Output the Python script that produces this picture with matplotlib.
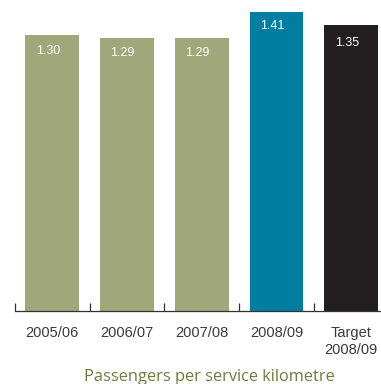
import matplotlib
matplotlib.use("Agg")
import matplotlib.pyplot as plt
from matplotlib.ticker import FixedLocator

categories = ["2005/06", "2006/07", "2007/08", "2008/09", "Target\n2008/09"]
values = [1.30, 1.29, 1.29, 1.41, 1.35]
value_labels = ["1.30", "1.29", "1.29", "1.41", "1.35"]
colors = ["#a0a77b", "#a0a77b", "#a0a77b", "#007ea1", "#231f20"]
title = "Passengers per service kilometre"

W, H = 381, 384
fig = plt.figure(figsize=(W / 100, H / 100), dpi=100)
ax = fig.add_axes([15 / W, 1 - 311 / H, (381 - 15) / W, 311 / H])

x = list(range(len(categories)))
ax.bar(x, values, width=0.72, color=colors, zorder=2)

label_drop = [0.075, 0.072, 0.072, 0.068, 0.088]
for xi, v, lab, d in zip(x, values, value_labels, label_drop):
    ax.text(xi - 0.06, v - d, lab, ha="center", va="center",
            color="white", fontsize=9, family="Liberation Sans")

ax.set_xlim(-0.5, 4.4)
ax.set_ylim(0, 1.467)

ax.set_xticks(x)
ax.set_xticklabels(categories, fontsize=10.5, color="#3a3a3a",
                   family="Liberation Sans", linespacing=1.25)
ax.tick_params(axis="x", which="major", length=0, pad=11)
ax.xaxis.set_minor_locator(FixedLocator([i - 0.5 for i in x]))
ax.tick_params(axis="x", which="minor", direction="in", length=6,
               width=0.9, color="#333333")
ax.set_yticks([])

for s in ("left", "top", "right"):
    ax.spines[s].set_visible(False)
ax.spines["bottom"].set_color("#333333")
ax.spines["bottom"].set_linewidth(0.9)

fig.text(209 / W, 1 - 377 / H, title, ha="center", va="center",
         fontsize=11.8, color="#6b7d3a", family="Open Sans")

fig.savefig("out.png", dpi=100)
